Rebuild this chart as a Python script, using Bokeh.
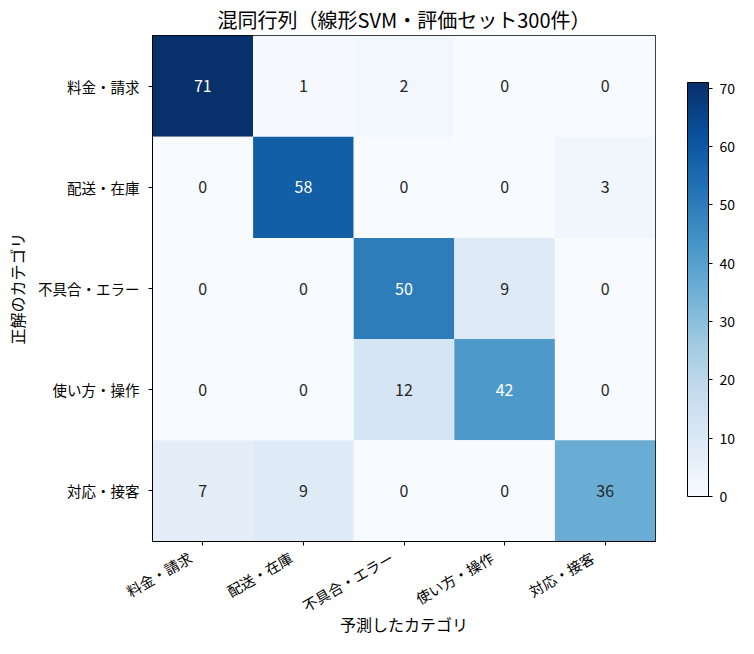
import math
from bokeh.plotting import figure
from bokeh.models import ColumnDataSource, LinearColorMapper, ColorBar, FixedTicker, Range1d
from bokeh.palettes import Blues256
from bokeh.core.properties import value
from bokeh.embed import file_html
from bokeh.resources import INLINE

# Data
categories = ["料金・請求", "配送・在庫", "不具合・エラー", "使い方・操作", "対応・接客"]
row_billing = [71, 1, 2, 0, 0]
row_shipping = [0, 58, 0, 0, 3]
row_error = [0, 0, 50, 9, 0]
row_usage = [0, 0, 12, 42, 0]
row_support = [7, 9, 0, 0, 36]
matrix = [row_billing, row_shipping, row_error, row_usage, row_support]

title = "混同行列（線形SVM・評価セット300件）"
xlabel = "予測したカテゴリ"
ylabel = "正解のカテゴリ"
colorbar_ticks = [0, 10, 20, 30, 40, 50, 60, 70]

font = "Noto Sans CJK JP"
palette = list(reversed(Blues256))
vmax = max(max(r) for r in matrix)

xs, ys, vals, txt_colors = [], [], [], []
for i, row in enumerate(matrix):
    for j, v in enumerate(row):
        xs.append(j)
        ys.append(i)
        vals.append(v)
        txt_colors.append("white" if v > 40 else "#262626")

source = ColumnDataSource(data=dict(x=xs, y=ys, v=vals, label=[str(v) for v in vals], tc=txt_colors))
mapper = LinearColorMapper(palette=palette, low=0, high=vmax)

p = figure(width=738, height=638, output_backend="svg", toolbar_location=None,
           x_range=Range1d(-0.5, 4.5), y_range=Range1d(4.5, -0.5),
           min_border_left=152, min_border_right=81, min_border_top=30, min_border_bottom=97)

p.rect("x", "y", width=1, height=1, source=source,
       fill_color={"field": "v", "transform": mapper}, line_color=None)
p.text("x", "y", text="label", source=source, text_color="tc",
       text_align="center", text_baseline="middle", text_font_size="16px",
       text_font=value(font))

p.title.text = title
p.title.align = "center"
p.title.text_font = font
p.title.text_font_size = "20px"
p.title.text_font_style = "normal"
p.title.text_color = "black"
p.title.standoff = 4

p.xgrid.visible = False
p.ygrid.visible = False
p.outline_line_color = "black"
p.outline_line_alpha = 1

for ax in (p.xaxis[0], p.yaxis[0]):
    ax.ticker = FixedTicker(ticks=list(range(len(categories))))
    ax.minor_tick_line_color = None
    ax.major_tick_in = 0
    ax.major_tick_out = 4
    ax.major_tick_line_color = "black"
    ax.axis_line_color = "black"
    ax.major_label_text_font = font
    ax.major_label_text_font_size = "14.5px"
    ax.major_label_text_color = "black"
    ax.axis_label_text_font = font
    ax.axis_label_text_font_size = "16px"
    ax.axis_label_text_font_style = "normal"
    ax.axis_label_text_color = "black"

# y labels as they are; x labels padded so the rotated text ends left of the tick
p.yaxis.major_label_overrides = {i: c for i, c in enumerate(categories)}
p.xaxis.major_label_overrides = {i: c + "\u3000" for i, c in enumerate(categories)}

p.xaxis.axis_label = xlabel
p.xaxis.major_label_orientation = math.pi / 6
p.xaxis.major_label_standoff = 3
p.xaxis.axis_label_standoff = -16
p.yaxis.axis_label = ylabel
p.yaxis.major_label_orientation = "horizontal"
p.yaxis.major_label_standoff = 9
p.yaxis.axis_label_standoff = 6

color_bar = ColorBar(color_mapper=mapper, ticker=FixedTicker(ticks=colorbar_ticks),
                     width=21, height=414, location=(32, 45), padding=0,
                     bar_line_color="black", major_tick_line_color="black",
                     major_tick_out=4, major_tick_in=0, minor_tick_line_color=None,
                     label_standoff=7,
                     major_label_text_font=font, major_label_text_font_size="14px",
                     major_label_text_color="black",
                     background_fill_alpha=0, border_line_color=None)
p.add_layout(color_bar, "right")

open("out.html", "w").write(file_html(p, INLINE))
